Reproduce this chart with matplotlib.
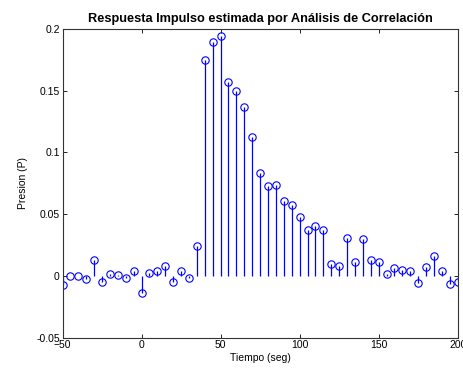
import numpy as np
import matplotlib
matplotlib.use("Agg")
import matplotlib.pyplot as plt

tiempo = list(range(-50, 201, 5))
presion = [
    -0.0076, -0.0004, -0.0004, -0.0028, 0.0131, -0.0052, 0.0013, 0.0005, -0.0014, 0.0037,
    -0.0141, 0.0021, 0.0042, 0.0080, -0.0052, 0.0040, -0.0014, 0.0244, 0.1747, 0.1892,
    0.1941, 0.1571, 0.1498, 0.1364, 0.1124, 0.0835, 0.0728, 0.0736, 0.0606, 0.0574,
    0.0477, 0.0369, 0.0404, 0.0369, 0.0094, 0.0080, 0.0307, 0.0110, 0.0301, 0.0126,
    0.0112, 0.0013, 0.0064, 0.0045, 0.0037, -0.0060, 0.0075, 0.0161, 0.0042, -0.0063,
    -0.0047,
]
xticks = [-50, 0, 50, 100, 150, 200]
yticks = [-0.05, 0, 0.05, 0.1, 0.15, 0.2]
yticklabels = ["-0.05", "0", "0.05", "0.1", "0.15", "0.2"]

plt.rcParams['font.family'] = ['Liberation Sans', 'DejaVu Sans']
fig = plt.figure(figsize=(4.64, 3.71), dpi=100)
ax = fig.add_axes([0.1347, 0.0898, 0.9864 - 0.1347, 0.9226 - 0.0898])

markerline, stemlines, baseline = ax.stem(tiempo, presion, linefmt='-', markerfmt='o', basefmt=' ')
stemlines.set_color('#0000ff')
stemlines.set_linewidth(0.9)
markerline.set_markerfacecolor('none')
markerline.set_markeredgecolor('#0000ff')
markerline.set_markersize(5.3)
markerline.set_markeredgewidth(0.8)
baseline.set_visible(False)

ax.set_xlim(-50, 200)
ax.set_ylim(-0.05, 0.2)
ax.set_xticks(xticks)
ax.set_yticks(yticks)
ax.set_yticklabels(yticklabels)
ax.tick_params(direction='in', top=True, right=True, labelsize=7.5, length=3, width=0.6, pad=2)
for s in ax.spines.values():
    s.set_linewidth(0.8)
    s.set_color('#333333')

ax.set_title('Respuesta Impulso estimada por Análisis de Correlación', fontsize=9.2, fontweight='bold', pad=5)
ax.set_xlabel('Tiempo (seg)', fontsize=7.5, labelpad=2)
ax.set_ylabel('Presion (P)', fontsize=7.5, labelpad=6)

fig.savefig('out.png', dpi=100)
